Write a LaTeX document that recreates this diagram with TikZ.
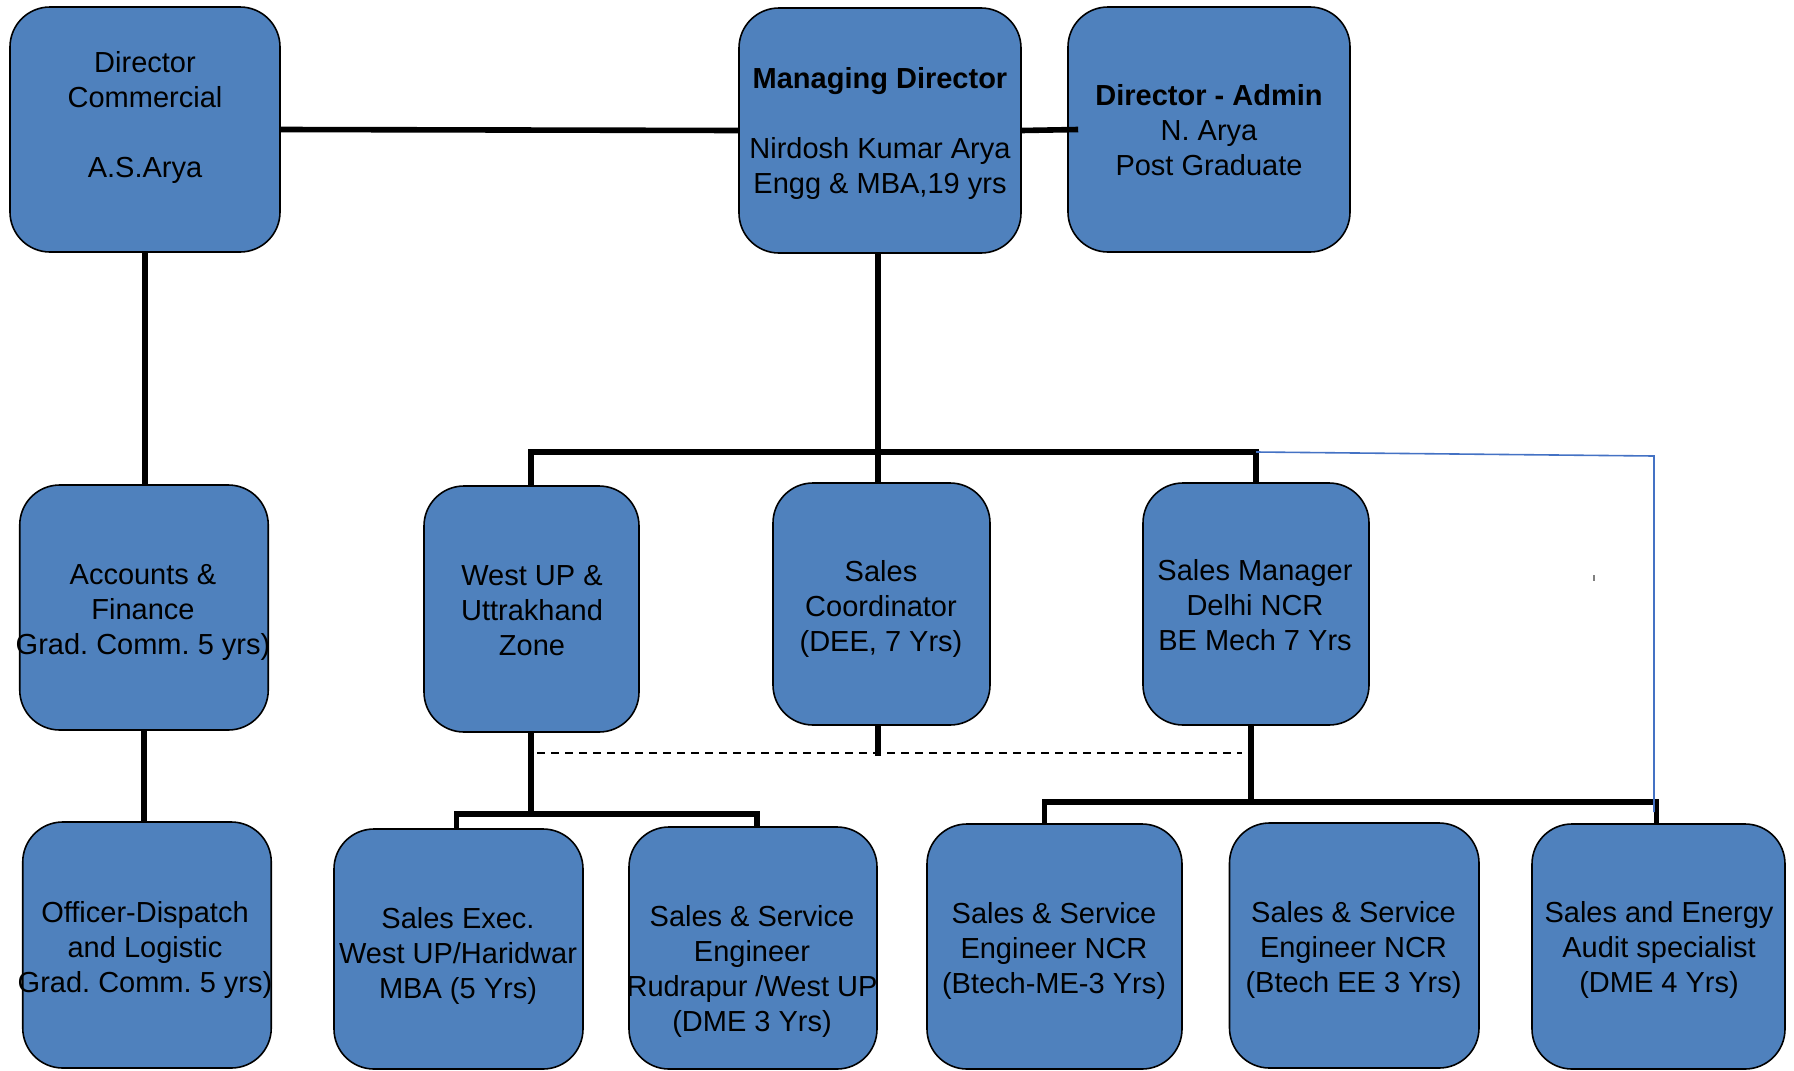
\documentclass[tikz,border=0pt]{standalone}
\usepackage{fontspec}
\setmainfont{Liberation Sans}
\usetikzlibrary{calc}
\definecolor{boxblue}{RGB}{79,129,189}
\definecolor{thinblue}{RGB}{68,114,196}
\begin{document}
\frenchspacing
\begin{tikzpicture}[x=1pt,y=-1pt,
  box/.style={draw=black, line width=1.6pt, fill=boxblue, rounded corners=40pt, inner sep=0pt},
  lbl/.style={align=center, inner sep=0pt, font=\fontsize{29}{35}\selectfont, text=black},
  conn/.style={draw=black, line width=5.6pt},
  dashline/.style={draw=black, line width=1.8pt, dash pattern=on 8pt off 6pt},
  blueline/.style={draw=thinblue, line width=1.6pt}]
\useasboundingbox (0,0) rectangle (1794,1071);

% boxes
\node[box, minimum width=270pt, minimum height=245pt] (dc) at (145,129.5) {};
\node[box, minimum width=282pt, minimum height=245pt] (md) at (880,130.5) {};
\node[box, minimum width=282pt, minimum height=245pt] (da) at (1209,129.5) {};
\node[box, minimum width=248.5pt, minimum height=245pt] (acc) at (144,607.5) {};
\node[box, minimum width=215pt, minimum height=246pt] (wu) at (531.5,609) {};
\node[box, minimum width=217pt, minimum height=242pt] (sc) at (881.5,604) {};
\node[box, minimum width=226pt, minimum height=242pt] (sm) at (1256,604) {};
\node[box, minimum width=248.5pt, minimum height=246pt] (off) at (147,945) {};
\node[box, minimum width=249pt, minimum height=240pt] (se) at (458.5,949) {};
\node[box, minimum width=248pt, minimum height=242pt] (sr) at (753,948) {};
\node[box, minimum width=255pt, minimum height=245pt] (n1) at (1054.5,946.5) {};
\node[box, minimum width=249.5pt, minimum height=245pt] (n2) at (1354.25,945.5) {};
\node[box, minimum width=253pt, minimum height=245pt] (en) at (1658.5,946.5) {};

% labels
\node[lbl] (tdc) at (145,117) {Director\\Commercial\\~\\A.S.Arya};
\node[lbl] (tmd) at (880,133.5) {\textbf{Managing Director}\\~\\Nirdosh Kumar Arya\\Engg \& MBA,19 yrs};
\node[lbl] (tda) at (1209,130.5) {\textbf{Director - Admin}\\N. Arya\\Post Graduate};
\node[lbl] (tacc) at (143,612.5) {Accounts \&\\Finance\\Grad. Comm. 5 yrs)};
\node[lbl] (twu) at (532,611) {West UP \&\\Uttrakhand\\Zone};
\node[lbl] (tsc) at (881,608.5) {Sales\\Coordinator\\(DEE, 7 Yrs)};
\node[lbl] (tsm) at (1255,605) {Sales Manager\\Delhi NCR\\BE Mech 7 Yrs};
\node[lbl] (toff) at (145,949.5) {Officer-Dispatch\\and Logistic\\Grad. Comm. 5 yrs)};
\node[lbl] (tse) at (458,955.5) {Sales Exec.\\West UP/Haridwar\\MBA (5 Yrs)};
\node[lbl] (tsr) at (752,971.5) {Sales \& Service\\Engineer\\Rudrapur /West UP\\(DME 3 Yrs)};
\node[lbl] (tn1) at (1054,951) {Sales \& Service\\Engineer NCR\\(Btech-ME-3 Yrs)};
\node[lbl] (tn2) at (1353.5,949.5) {Sales \& Service\\Engineer NCR\\(Btech EE 3 Yrs)};
\node[lbl] (ten) at (1659,950) {Sales and Energy\\Audit specialist\\(DME 4 Yrs)};

% helper coordinates
\coordinate (bus) at (878,452);
\coordinate (sub) at (531,814);
\coordinate (bus2) at (1251,802);
\coordinate (dashL) at (537,753);
\coordinate (dashR) at (1242,753);
\coordinate (bluecorner) at (1654,456);
\coordinate (blueend) at (1654,812);

% connectors
\draw[conn] (dc.east) -- (md.west);
\draw[conn] (md.east) -- ($(da.west)+(11,0)$);
\draw[conn] (dc.south) -- (dc.south |- acc.north);
\draw[conn] (acc.south) -- (acc.south |- off.north);
\draw[conn] (md.south -| bus) -- (bus |- sc.north);
\draw[conn] (wu.north -| sub) -- (sub |- bus) -- (bus -| sm.north) -- (sm.north);
\draw[conn] (wu.south -| sub) -- (sub);
\draw[conn] ($(se.north)+(-2,0)$) |- (sub) -| ($(sr.north)+(4,0)$);
\draw[conn] (sc.south -| bus) -- ++(0,30);
\draw[conn] (sm.south -| bus2) -- (bus2);
\draw[conn] ($(n1.north)+(-10,0)$) |- (bus2) -| ($(en.north)+(-2,0)$);
\draw[conn] ($(n2.north)+(-4,0)$) -- ($(n2.north)+(-4,0)$ |- bus2);
\draw[dashline] (dashL) -- (dashR);
\draw[blueline] (bus -| sm.north) -- (bluecorner) -- (blueend);
\draw[gray, line width=1.5pt] (1594,575) -- (1594,581);
\end{tikzpicture}
\end{document}
